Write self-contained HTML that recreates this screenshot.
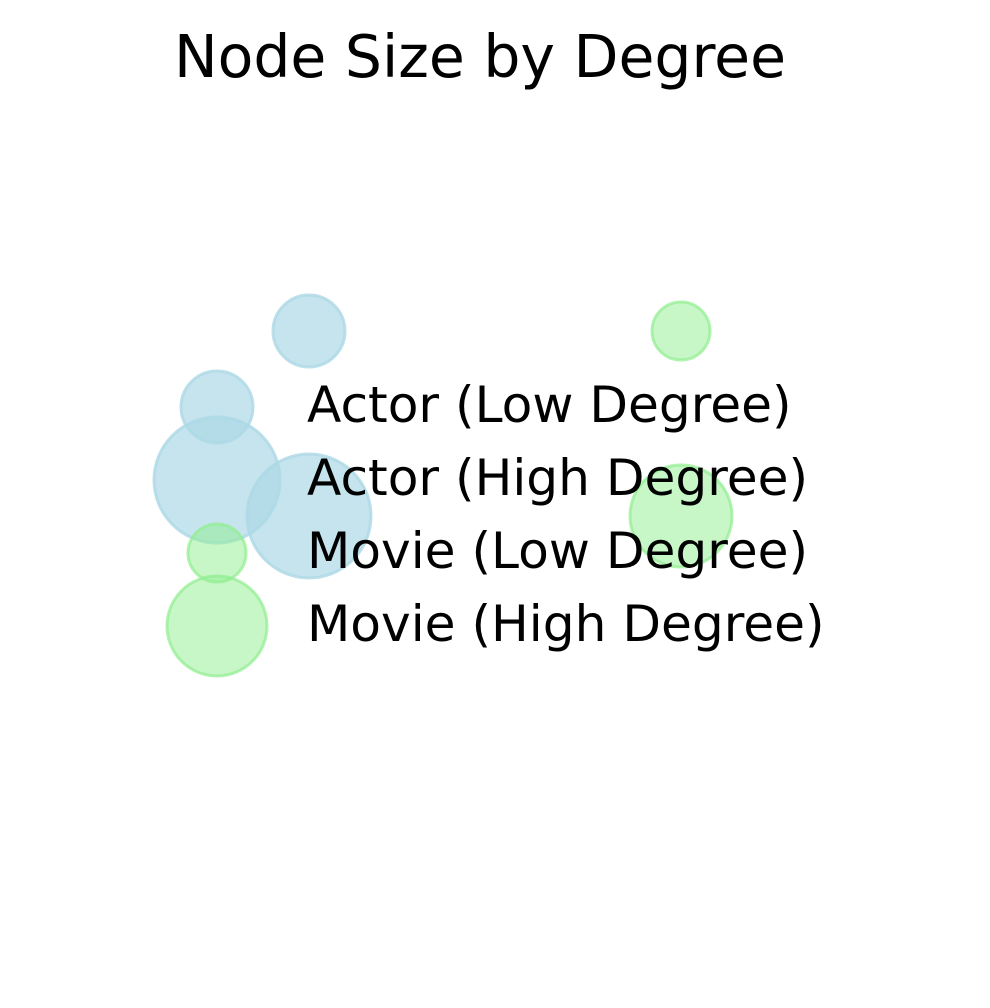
<!DOCTYPE html>
<html><head><style>html,body{margin:0;padding:0;background:#fff;}svg{display:block}</style></head>
<body>
<svg width="990" height="1008" viewBox="0 0 990 1008" xmlns="http://www.w3.org/2000/svg">
<rect width="990" height="1008" fill="#fff"/>
<text x="480" y="77" text-anchor="middle" font-family="DejaVu Sans, Liberation Sans, sans-serif" font-size="58.4">Node Size by Degree</text>
<g stroke-width="3">
<circle cx="309" cy="331" r="36" fill="#add8e6" fill-opacity="0.7" stroke="#add8e6" stroke-opacity="0.8"/>
<circle cx="681" cy="331" r="29" fill="#90ee90" fill-opacity="0.5" stroke="#90ee90" stroke-opacity="0.7"/>
<circle cx="217" cy="407" r="36" fill="#add8e6" fill-opacity="0.7" stroke="#add8e6" stroke-opacity="0.8"/>
<circle cx="217" cy="480" r="63" fill="#add8e6" fill-opacity="0.7" stroke="#add8e6" stroke-opacity="0.8"/>
<circle cx="309" cy="516" r="62" fill="#add8e6" fill-opacity="0.7" stroke="#add8e6" stroke-opacity="0.8"/>
<circle cx="681" cy="516" r="51" fill="#90ee90" fill-opacity="0.5" stroke="#90ee90" stroke-opacity="0.7"/>
<circle cx="217" cy="553" r="29" fill="#90ee90" fill-opacity="0.5" stroke="#90ee90" stroke-opacity="0.7"/>
<circle cx="217" cy="626" r="50" fill="#90ee90" fill-opacity="0.5" stroke="#90ee90" stroke-opacity="0.7"/>
</g>
<g font-family="DejaVu Sans, Liberation Sans, sans-serif" font-size="50.2" fill="#000">
<text x="307" y="422">Actor (Low Degree)</text>
<text x="307" y="495">Actor (High Degree)</text>
<text x="307" y="568">Movie (Low Degree)</text>
<text x="307" y="641">Movie (High Degree)</text>
</g>
</svg>
</body></html>
